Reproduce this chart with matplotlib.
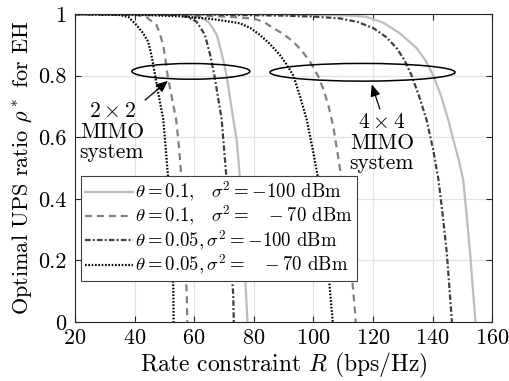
import numpy as np
import matplotlib
matplotlib.use("Agg")
import matplotlib.pyplot as plt
from matplotlib.patches import Ellipse

plt.rcParams['font.family'] = 'serif'
plt.rcParams['font.serif'] = ['cmr10']
plt.rcParams['mathtext.fontset'] = 'cm'
plt.rcParams['axes.formatter.use_mathtext'] = True
plt.rcParams['lines.scale_dashes'] = False

# ----------------------------------------
# Curves: rate constraint R vs optimal UPS ratio rho*
# ----------------------------------------
# 2x2 MIMO
r22_a = [20, 55, 59.7, 62, 64.7, 66.2, 67.6, 69.3, 70.9, 72.0, 73.1, 74.3, 75.4, 76.7, 77.8, 77.9]
p22_a = [1, 0.999, 0.997, 0.99, 0.975, 0.955, 0.932, 0.87, 0.8, 0.73, 0.661, 0.59, 0.461, 0.223, 0.017, 0]
r22_b = [20, 35, 40.7, 44, 47.4, 48.5, 49.6, 50.4, 51.1, 52.5, 53.9, 54.7, 55.8, 56.9, 57.5, 57.7]
p22_b = [1, 0.999, 0.997, 0.99, 0.964, 0.935, 0.9, 0.85, 0.8, 0.73, 0.661, 0.59, 0.461, 0.223, 0.093, 0]
r22_c = [20, 50, 55.2, 58, 60.8, 62.2, 63.6, 65.3, 66.8, 68.0, 69.2, 69.8, 70.9, 72.0, 73.1, 73.3]
p22_c = [1, 0.999, 0.997, 0.99, 0.975, 0.955, 0.932, 0.87, 0.8, 0.73, 0.661, 0.59, 0.461, 0.223, 0.093, 0]
r22_d = [20, 28, 35.1, 38, 40.7, 42.7, 44.6, 45.8, 46.9, 48.2, 49.6, 50.5, 51.3, 51.9, 53.0, 53.1]
p22_d = [1, 0.999, 0.997, 0.99, 0.964, 0.94, 0.91, 0.86, 0.8, 0.73, 0.661, 0.56, 0.461, 0.224, 0.115, 0]

# 4x4 MIMO
r44_a = [20, 80, 105, 112, 117.9, 123.5, 129.1, 134.7, 137.6, 140.3, 143, 145.3, 147,
         148.7, 150.3, 151.5, 152.6, 154.4]
p44_a = [1, 0.999, 0.997, 0.995, 0.991, 0.972, 0.937, 0.889, 0.85, 0.8, 0.73, 0.656, 0.59,
         0.53, 0.461, 0.34, 0.223, 0]
r44_b = [20, 50, 70, 75.5, 80.6, 83.8, 86.6, 90, 93.3, 96.2, 98.9, 101.7, 103.4, 105, 106.7,
         108.1, 109.5, 111, 112.3, 114.0, 114.2]
p44_b = [1, 0.998, 0.992, 0.989, 0.984, 0.972, 0.954, 0.935, 0.91, 0.88, 0.845, 0.797, 0.755,
         0.705, 0.634, 0.55, 0.461, 0.34, 0.224, 0.03, 0]
r44_c = [20, 60, 90, 100, 109, 115, 120.2, 124.5, 128, 130.6, 133, 135.6, 138, 140.2, 142,
         143.5, 144.8, 146.5]
p44_c = [1, 0.999, 0.995, 0.992, 0.986, 0.974, 0.954, 0.925, 0.889, 0.85, 0.8, 0.73, 0.656,
         0.56, 0.461, 0.34, 0.223, 0]
r44_d = [20, 40, 55, 65, 70.4, 75.4, 78.8, 82.1, 85.5, 88.8, 91.1, 93.3, 95.6, 97.8, 99.8,
         101.7, 103.2, 104.5, 106.5]
p44_d = [1, 0.998, 0.993, 0.985, 0.978, 0.97, 0.955, 0.932, 0.902, 0.867, 0.835, 0.8, 0.73,
         0.656, 0.56, 0.461, 0.34, 0.223, 0]

labels = [r'$\theta = 0.1,\;\;\;\sigma^2 = -100$ dBm',
          r'$\theta = 0.1,\;\;\;\sigma^2 = \;\;\;-70$ dBm',
          r'$\theta = 0.05, \sigma^2 = -100$ dBm',
          r'$\theta = 0.05, \sigma^2 = \;\;\;-70$ dBm']

styles = [dict(color='#bdbdbd', linestyle='-'),
          dict(color='#808080', linestyle=(0, (5, 3.6))),
          dict(color='#404040', linestyle=(0, (4, 1.6, 1.4, 1.6))),
          dict(color='black', linestyle=(0, (1.2, 1.2)))]

fig = plt.figure(figsize=(5.1, 3.81), dpi=100)
ax = fig.add_axes([0.147, 0.155, 0.818, 0.808])

curves_22 = [(r22_a, p22_a), (r22_b, p22_b), (r22_c, p22_c), (r22_d, p22_d)]
curves_44 = [(r44_a, p44_a), (r44_b, p44_b), (r44_c, p44_c), (r44_d, p44_d)]

handles = []
for (r, p), (r4, p4), st, lab in zip(curves_22, curves_44, styles, labels):
    h, = ax.plot(r, p, lw=1.6, label=lab, **st)
    ax.plot(r4, p4, lw=1.6, **st)
    handles.append(h)

ax.set_xlim(20, 160)
ax.set_ylim(0, 1)
ax.set_xticks(np.arange(20, 161, 20))
ax.set_yticks([0, 0.2, 0.4, 0.6, 0.8, 1])
ax.set_yticklabels(['0', '0.2', '0.4', '0.6', '0.8', '1'])
ax.tick_params(direction='in', top=True, right=True, labelsize=16, length=4,
               width=0.8, colors='#262626', labelcolor='black')
ax.tick_params(axis='x', pad=5)
ax.tick_params(axis='y', pad=6)
ax.grid(True, color='#e3e3e3', lw=0.9)
ax.set_axisbelow(True)
for s in ax.spines.values():
    s.set_color('#262626')
    s.set_linewidth(0.8)

ax.set_xlabel(r'Rate constraint $R$ (bps/Hz)', fontsize=17, labelpad=2)
ax.set_ylabel(r'Optimal UPS ratio $\rho^*$ for EH', fontsize=16, labelpad=3)

# Ellipses grouping the curves of each antenna setup
ax.add_patch(Ellipse((58.9, 0.814), 39.6, 0.051, fill=False, ec='black', lw=1.1, zorder=5))
ax.add_patch(Ellipse((116.5, 0.811), 62.1, 0.0575, fill=False, ec='black', lw=1.1, zorder=5))

ax.annotate('', xy=(51.9, 0.789), xytext=(42.8, 0.715),
            arrowprops=dict(arrowstyle='-|>,head_length=0.7,head_width=0.3', color='black', lw=0.9))
ax.annotate('', xy=(119.3, 0.78), xytext=(122.6, 0.683),
            arrowprops=dict(arrowstyle='-|>,head_length=0.7,head_width=0.3', color='black', lw=0.9))

ax.text(32.4, 0.617, '$2 \\times 2$\nMIMO\nsystem', ha='center', va='center',
        fontsize=15.5, linespacing=1.05)
ax.text(123, 0.582, '$4 \\times 4$\nMIMO\nsystem', ha='center', va='center',
        fontsize=15.5, linespacing=1.05)

leg = ax.legend(handles=handles, loc='lower left', bbox_to_anchor=(0.014, 0.134),
                borderaxespad=0, fontsize=13.5, fancybox=False, framealpha=1,
                edgecolor='#404040', handlelength=2.6, handletextpad=0.1,
                labelspacing=0.02, borderpad=0.2)
leg.get_frame().set_linewidth(0.8)
leg.set_zorder(10)

plt.savefig('out.png', dpi=100)
